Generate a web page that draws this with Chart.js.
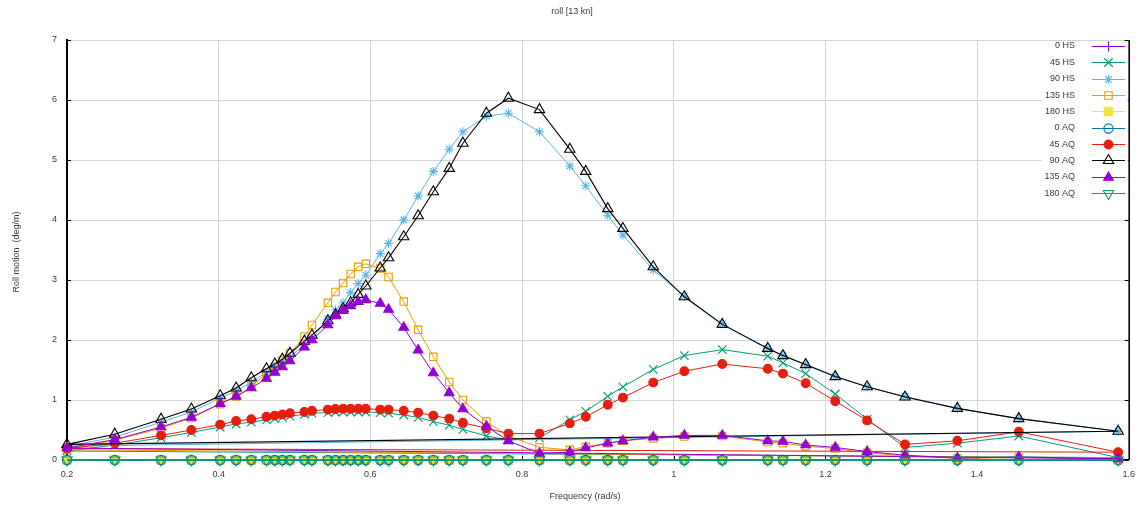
<!DOCTYPE html>
<html>
<head>
<meta charset="utf-8">
<script src="https://cdn.jsdelivr.net/npm/chart.js@4.4.0/dist/chart.umd.min.js"></script>
<style>
  html, body { margin: 0; padding: 0; background: #fff; }
  #wrap { width: 1144px; height: 510px; }
</style>
</head>
<body>
<div id="wrap"><canvas id="c" width="1144" height="510"></canvas></div>
<script>
// Wave frequencies (rad/s)
const freq = [0.2, 0.263, 0.324, 0.364, 0.402, 0.423, 0.443, 0.463, 0.474, 0.484, 0.494, 0.513, 0.523, 0.544, 0.554,
  0.564, 0.574, 0.584, 0.594, 0.613, 0.624, 0.644, 0.663, 0.683, 0.704, 0.722, 0.753, 0.782, 0.823, 0.863,
  0.884, 0.913, 0.933, 0.973, 1.014, 1.064, 1.124, 1.144, 1.174, 1.213, 1.255, 1.305, 1.374, 1.455, 1.586];

// Roll RAO (deg/m), one array per heading / loading condition
const hs0 = [0, 0, 0, 0, 0, 0, 0, 0, 0, 0, 0, 0, 0, 0, 0, 0, 0, 0, 0, 0, 0, 0, 0, 0, 0, 0, 0, 0, 0, 0, 0, 0, 0, 0, 0, 0, 0, 0, 0, 0, 0, 0, 0, 0, 0];
const hs45 = [0.15, 0.25, 0.37, 0.46, 0.55, 0.6, 0.63, 0.67, 0.69, 0.71, 0.73, 0.76, 0.78, 0.79, 0.8,
  0.8, 0.8, 0.8, 0.8, 0.79, 0.78, 0.75, 0.71, 0.64, 0.58, 0.51, 0.4, 0.33, 0.37, 0.67,
  0.81, 1.06, 1.22, 1.51, 1.74, 1.84, 1.73, 1.62, 1.44, 1.1, 0.68, 0.21, 0.28, 0.4, 0.04];
const hs90 = [0.23, 0.38, 0.63, 0.8, 1.03, 1.15, 1.3, 1.46, 1.55, 1.63, 1.72, 1.92, 2.02, 2.35, 2.5,
  2.62, 2.79, 2.94, 3.08, 3.44, 3.61, 4.0, 4.4, 4.81, 5.18, 5.47, 5.73, 5.78, 5.47, 4.9,
  4.57, 4.08, 3.75, 3.17, 2.73, 2.27, 1.86, 1.74, 1.58, 1.39, 1.22, 1.06, 0.86, 0.69, 0.48];
const hs135 = [0.17, 0.33, 0.53, 0.7, 0.93, 1.06, 1.22, 1.45, 1.55, 1.66, 1.78, 2.06, 2.25, 2.62, 2.8,
  2.95, 3.1, 3.22, 3.27, 3.19, 3.05, 2.64, 2.17, 1.72, 1.3, 1.0, 0.64, 0.4, 0.21, 0.17,
  0.22, 0.28, 0.32, 0.36, 0.39, 0.4, 0.3, 0.28, 0.23, 0.19, 0.12, 0.07, 0.03, 0.04, 0.03];
const hs180 = [0, 0, 0, 0, 0, 0, 0, 0, 0, 0, 0, 0, 0, 0, 0, 0, 0, 0, 0, 0, 0, 0, 0, 0, 0, 0, 0, 0, 0, 0, 0, 0, 0, 0, 0, 0, 0, 0, 0, 0, 0, 0, 0, 0, 0];
const aq0 = [0, 0, 0, 0, 0, 0, 0, 0, 0, 0, 0, 0, 0, 0, 0, 0, 0, 0, 0, 0, 0, 0, 0, 0, 0, 0, 0, 0, 0, 0, 0, 0, 0, 0, 0, 0, 0, 0, 0, 0, 0, 0, 0, 0, 0];
const aq45 = [0.19, 0.28, 0.41, 0.5, 0.59, 0.65, 0.68, 0.72, 0.74, 0.76, 0.78, 0.8, 0.82, 0.84, 0.85,
  0.855, 0.855, 0.855, 0.855, 0.84, 0.84, 0.82, 0.79, 0.74, 0.69, 0.62, 0.53, 0.44, 0.44, 0.61,
  0.72, 0.92, 1.04, 1.29, 1.48, 1.6, 1.52, 1.44, 1.28, 0.98, 0.66, 0.26, 0.32, 0.47, 0.13];
const aq90 = [0.26, 0.43, 0.68, 0.85, 1.07, 1.2, 1.37, 1.52, 1.6, 1.68, 1.78, 1.98, 2.08, 2.32, 2.42,
  2.52, 2.62, 2.76, 2.9, 3.2, 3.37, 3.72, 4.07, 4.47, 4.86, 5.28, 5.78, 6.03, 5.84, 5.18,
  4.81, 4.19, 3.86, 3.22, 2.72, 2.26, 1.86, 1.74, 1.59, 1.39, 1.22, 1.05, 0.86, 0.69, 0.48];
const aq135 = [0.2, 0.34, 0.55, 0.71, 0.94, 1.06, 1.2, 1.36, 1.46, 1.55, 1.65, 1.88, 2.0, 2.25, 2.4,
  2.49, 2.57, 2.64, 2.67, 2.61, 2.51, 2.21, 1.83, 1.45, 1.12, 0.85, 0.56, 0.32, 0.11, 0.13,
  0.2, 0.28, 0.32, 0.38, 0.41, 0.41, 0.32, 0.31, 0.25, 0.21, 0.14, 0.08, 0.03, 0.05, 0.02];
const aq180 = [0, 0, 0, 0, 0, 0, 0, 0, 0, 0, 0, 0, 0, 0, 0, 0, 0, 0, 0, 0, 0, 0, 0, 0, 0, 0, 0, 0, 0, 0, 0, 0, 0, 0, 0, 0, 0, 0, 0, 0, 0, 0, 0, 0, 0];

const seriesNames = ['0 HS', '45 HS', '90 HS', '135 HS', '180 HS', '0 AQ', '45 AQ', '90 AQ', '135 AQ', '180 AQ'];
const seriesValues = [hs0, hs45, hs90, hs135, hs180, aq0, aq45, aq90, aq135, aq180];

const xTicks = [0.2, 0.4, 0.6, 0.8, 1, 1.2, 1.4, 1.6];
const yTicks = [0, 1, 2, 3, 4, 5, 6, 7];

const chartTitle = 'roll [13 kn]';
const xTitle = 'Frequency (rad/s)';
const yTitle = 'Roll motion  (deg/m)';

// Marker / line styling per series
const NONE = 'rgba(0,0,0,0)';
const styles = [
  { color: '#9400d3', point: 'cross',    r: 5,   rot: 0,   fill: NONE,      lw: 1 },
  { color: '#009e73', point: 'crossRot', r: 6,   rot: 0,   fill: NONE,      lw: 1 },
  { color: '#56b4e9', point: 'star',     r: 4.6, rot: 0,   fill: NONE,      lw: 1 },
  { color: '#e69f00', point: 'rect',     r: 5.2, rot: 0,   fill: NONE,      lw: 1 },
  { color: '#f0e442', point: 'rect',     r: 6,   rot: 0,   fill: '#f0e442', lw: 1 },
  { color: '#0072b2', point: 'circle',   r: 4.6, rot: 0,   fill: NONE,      lw: 1 },
  { color: '#e51e10', point: 'circle',   r: 4.4, rot: 0,   fill: '#e51e10', lw: 1 },
  { color: '#000000', point: 'triangle', r: 6,   rot: 0,   fill: NONE,      lw: 1.1 },
  { color: '#9400d3', point: 'triangle', r: 5.6, rot: 0,   fill: '#9400d3', lw: 1 },
  { color: '#009e73', point: 'triangle', r: 6,   rot: 180, fill: NONE,      lw: 1 }
];

const FONT = '"Liberation Sans", Arial, sans-serif';
const TEXT = '#3a3a3a';

// Each curve is closed back onto its first sample
const datasets = seriesValues.map((vals, i) => {
  const s = styles[i];
  const pts = freq.map((f, k) => ({ x: f, y: vals[k] }));
  pts.push({ x: freq[0], y: vals[0] });
  const last = pts.length - 1;
  return {
    label: seriesNames[i],
    data: pts,
    showLine: true,
    borderColor: s.color,
    borderWidth: s.lw,
    tension: 0,
    pointStyle: s.point,
    pointRotation: s.rot,
    pointRadius: c => (c.dataIndex === last ? 0 : s.r),
    pointBorderColor: s.color,
    pointBackgroundColor: s.fill,
    pointBorderWidth: 1.1,
    clip: false,
    order: 20 - i
  };
});

const framePlugin = {
  id: 'frame',
  beforeDatasetsDraw(chart) {
    const { ctx, chartArea: a, scales } = chart;
    ctx.save();
    ctx.strokeStyle = '#000';
    ctx.lineWidth = 1.5;
    ctx.beginPath();
    ctx.moveTo(a.right + 0.5, a.top);
    ctx.lineTo(a.right + 0.5, a.bottom);
    ctx.stroke();
    ctx.lineWidth = 1;
    ctx.beginPath();
    yTicks.forEach(v => {
      const y = Math.round(scales.y.getPixelForValue(v)) + 0.5;
      ctx.moveTo(a.left, y); ctx.lineTo(a.left + 4, y);
      ctx.moveTo(a.right, y); ctx.lineTo(a.right - 4, y);
    });
    xTicks.forEach(v => {
      const x = Math.round(scales.x.getPixelForValue(v)) + 0.5;
      ctx.moveTo(x, a.bottom); ctx.lineTo(x, a.bottom - 4);
    });
    ctx.stroke();
    ctx.restore();
  },
  afterDatasetsDraw(chart) {
    const { ctx, chartArea: a } = chart;
    ctx.save();
    // key box
    ctx.fillStyle = '#fff';
    ctx.fillRect(1042, a.top + 1, a.right - 1042 - 1, 162);
    ctx.font = '9px ' + FONT;
    ctx.textAlign = 'right';
    ctx.textBaseline = 'middle';
    seriesNames.forEach((name, i) => {
      const s = styles[i];
      const y = 46 + i * 16.35;
      ctx.fillStyle = TEXT;
      ctx.fillText(name, 1075, y);
      ctx.strokeStyle = s.color;
      ctx.lineWidth = s.lw;
      ctx.beginPath();
      ctx.moveTo(1092, Math.round(y) + 0.5);
      ctx.lineTo(1125, Math.round(y) + 0.5);
      ctx.stroke();
      ctx.fillStyle = s.fill;
      ctx.lineWidth = 1.1;
      Chart.helpers.drawPoint(ctx, { pointStyle: s.point, rotation: s.rot, radius: s.r, borderWidth: 1.1 }, 1108.5, Math.round(y) + 0.5);
    });
    ctx.restore();
  },
  afterDraw(chart) {
    const { ctx } = chart;
    ctx.save();
    ctx.fillStyle = TEXT;
    ctx.font = '9px ' + FONT;
    ctx.textAlign = 'center';
    ctx.textBaseline = 'middle';
    ctx.fillText(chartTitle, 572, 12);
    ctx.fillText(xTitle, 585, 497);
    ctx.translate(17, 252);
    ctx.rotate(-Math.PI / 2);
    ctx.fillText(yTitle, 0, 0);
    ctx.restore();
  }
};

new Chart(document.getElementById('c'), {
  type: 'scatter',
  data: { datasets },
  plugins: [framePlugin],
  options: {
    responsive: false,
    animation: false,
    devicePixelRatio: 1,
    layout: { padding: { top: 40, right: 6, bottom: 0, left: 0 } },
    plugins: {
      legend: { display: false },
      title: { display: false },
      tooltip: { enabled: false }
    },
    scales: {
      x: {
        type: 'linear',
        min: 0.2,
        max: 1.6,
        afterBuildTicks: s => { s.ticks = xTicks.map(v => ({ value: v })); },
        afterFit: s => { s.height = 50; },
        ticks: {
          callback: v => String(v),
          font: { family: FONT, size: 9 },
          color: TEXT,
          padding: 9,
          maxRotation: 0,
          autoSkip: false
        },
        grid: { color: '#d4d4d4', lineWidth: 1, drawTicks: false },
        border: { display: true, color: '#000', width: 1.5 }
      },
      y: {
        type: 'linear',
        min: 0,
        max: 7,
        afterBuildTicks: s => { s.ticks = yTicks.map(v => ({ value: v })); },
        afterFit: s => { s.width = 67; },
        ticks: {
          callback: v => String(v),
          font: { family: FONT, size: 9 },
          color: TEXT,
          padding: 10,
          autoSkip: false
        },
        grid: { color: '#d4d4d4', lineWidth: 1, drawTicks: false },
        border: { display: true, color: '#000', width: 2 }
      }
    }
  }
});
</script>
</body>
</html>
